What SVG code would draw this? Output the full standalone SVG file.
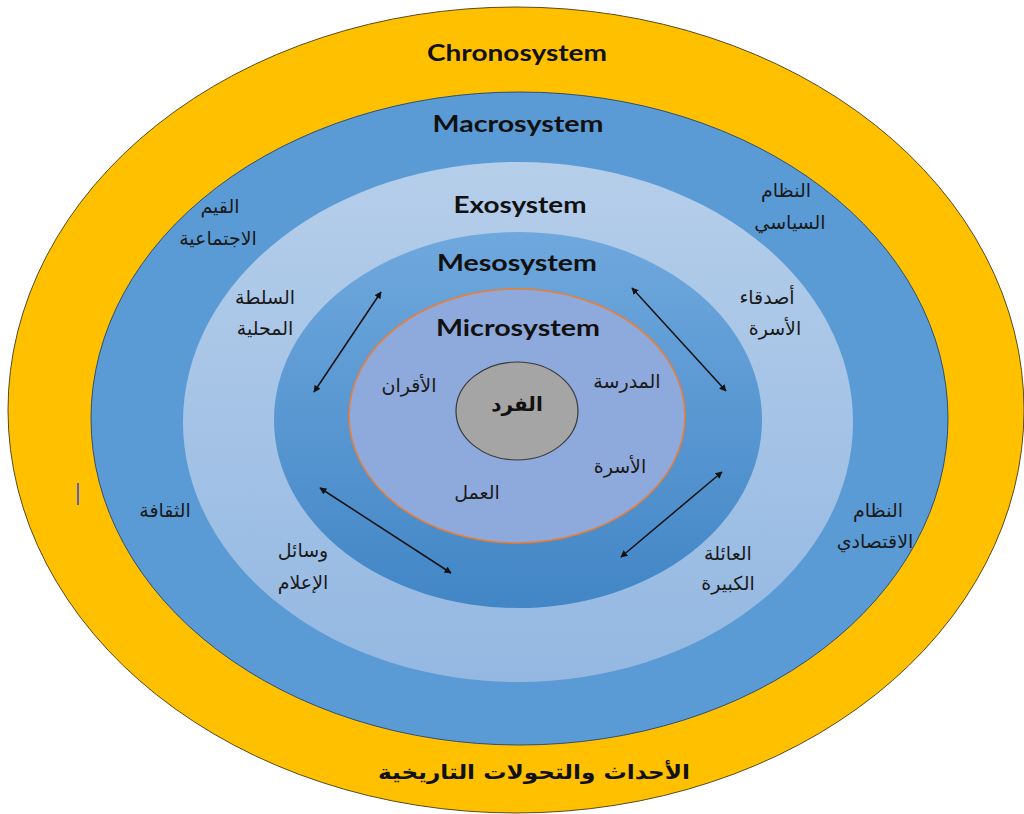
<svg xmlns="http://www.w3.org/2000/svg" width="1024" height="814" viewBox="0 0 1024 814">
<defs>
<linearGradient id="gExo" x1="0" y1="0" x2="0" y2="1"><stop offset="0" stop-color="#B5CEEA"/><stop offset="1" stop-color="#94B8E2"/></linearGradient>
<linearGradient id="gMeso" x1="0" y1="0" x2="0" y2="1"><stop offset="0" stop-color="#6FA8DD"/><stop offset="1" stop-color="#4286C6"/></linearGradient>
<marker id="ah" viewBox="0 0 10 10" refX="9" refY="5" markerWidth="7" markerHeight="7" orient="auto-start-reverse" markerUnits="userSpaceOnUse"><path d="M0,0 L10,5 L0,10 z" fill="#111"/></marker>
<style>
.en{font-family:Lato,"Open Sans","Liberation Sans",sans-serif;font-weight:bold;font-size:22px;fill:#111;text-anchor:middle}
.ar{font-family:"DejaVu Sans","Noto Sans",sans-serif;font-size:19px;fill:#1a1a1a;text-anchor:middle}
.arb{font-family:"DejaVu Sans","Noto Sans",sans-serif;font-weight:bold;font-size:20px;fill:#111;text-anchor:middle}
.conn{stroke:#111;stroke-width:1.5;fill:none;marker-start:url(#ah);marker-end:url(#ah)}
</style>
</defs>
<rect width="1024" height="814" fill="#FFFFFF"/>
<g id="chronosystem">
<ellipse cx="516" cy="410" rx="508" ry="403" fill="#FFC000" stroke="#5a4a20" stroke-width="1"/>
<text class="en" x="517" y="61" textLength="180" lengthAdjust="spacingAndGlyphs">Chronosystem</text>
<text class="arb" x="534" y="779" direction="rtl" textLength="312" lengthAdjust="spacingAndGlyphs">الأحداث والتحولات التاريخية</text>
</g>
<g id="macrosystem">
<ellipse cx="519.5" cy="418.5" rx="428.5" ry="326.5" fill="#5B9BD5" stroke="#2f4f6f" stroke-width="1"/>
<text class="en" x="518" y="132" textLength="171" lengthAdjust="spacingAndGlyphs">Macrosystem</text>
<text class="ar" x="220" y="213" direction="rtl">القيم</text>
<text class="ar" x="218" y="245" direction="rtl">الاجتماعية</text>
<text class="ar" x="786" y="197" direction="rtl">النظام</text>
<text class="ar" x="790" y="229" direction="rtl">السياسي</text>
<text class="ar" x="165" y="517" direction="rtl">الثقافة</text>
<text class="ar" x="878" y="517" direction="rtl">النظام</text>
<text class="ar" x="875" y="548" direction="rtl">الاقتصادي</text>
</g>
<g id="exosystem">
<ellipse cx="518" cy="422" rx="335" ry="260" fill="url(#gExo)"/>
<text class="en" x="520" y="213" textLength="133" lengthAdjust="spacingAndGlyphs">Exosystem</text>
<text class="ar" x="265" y="304" direction="rtl">السلطة</text>
<text class="ar" x="265" y="335" direction="rtl">المحلية</text>
<text class="ar" x="767" y="304" direction="rtl">أصدقاء</text>
<text class="ar" x="775" y="335" direction="rtl">الأسرة</text>
<text class="ar" x="303" y="557" direction="rtl">وسائل</text>
<text class="ar" x="303" y="589" direction="rtl">الإعلام</text>
<text class="ar" x="728" y="560" direction="rtl">العائلة</text>
<text class="ar" x="728" y="590" direction="rtl">الكبيرة</text>
</g>
<g id="mesosystem">
<ellipse cx="518" cy="420" rx="244" ry="188" fill="url(#gMeso)"/>
<text class="en" x="517" y="271" textLength="160" lengthAdjust="spacingAndGlyphs">Mesosystem</text>
</g>
<g id="microsystem">
<ellipse cx="517" cy="416" rx="168" ry="127" fill="#8EA9DB" stroke="#ED7D31" stroke-width="1.5"/>
<text class="en" x="518" y="336" textLength="164" lengthAdjust="spacingAndGlyphs">Microsystem</text>
<text class="ar" x="409" y="392" direction="rtl">الأقران</text>
<text class="ar" x="627" y="388" direction="rtl">المدرسة</text>
<text class="ar" x="620" y="473" direction="rtl">الأسرة</text>
<text class="ar" x="477" y="499" direction="rtl">العمل</text>
</g>
<g id="individual">
<ellipse cx="517" cy="411" rx="61" ry="49" fill="#A5A5A5" stroke="#3a3a3a" stroke-width="1.2"/>
<text class="arb" x="517" y="411" font-size="17" direction="rtl">الفرد</text>
</g>
<g id="connectors">
<line class="conn" x1="314" y1="392" x2="381" y2="292"/>
<line class="conn" x1="726" y1="391" x2="632" y2="288"/>
<line class="conn" x1="320" y1="488" x2="451" y2="573"/>
<line class="conn" x1="621" y1="557" x2="722" y2="472"/>
</g>
<line x1="78" y1="483" x2="78" y2="505" stroke="#2244ff" stroke-width="1.5"/>
</svg>
